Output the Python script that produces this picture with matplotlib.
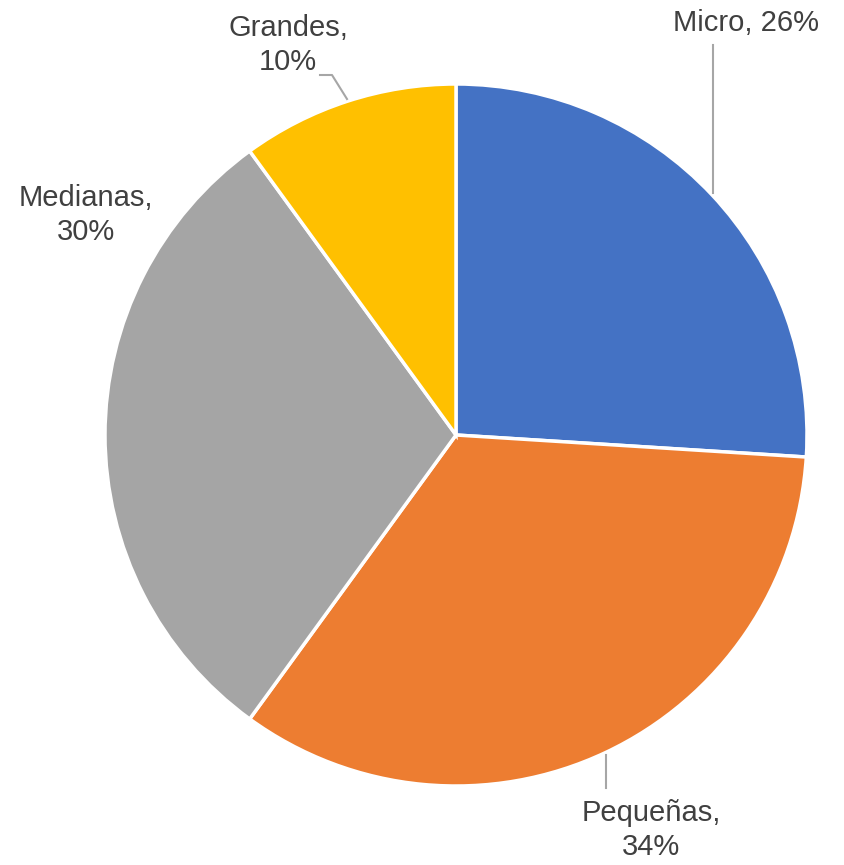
import matplotlib
matplotlib.use("Agg")
import matplotlib.pyplot as plt
from matplotlib import font_manager

names = {f.name for f in font_manager.fontManager.ttflist}
fam = "Liberation Sans Narrow" if "Liberation Sans Narrow" in names else "Liberation Sans"

categories = ["Micro", "Pequeñas", "Medianas", "Grandes"]
values = [26, 34, 30, 10]
colors = ["#4472C4", "#ED7D31", "#A5A5A5", "#FFC000"]
labels = ["Micro, 26%", "Pequeñas,\n34%", "Medianas,\n30%", "Grandes,\n10%"]

W, H = 844, 865
fig = plt.figure(figsize=(W / 100, H / 100), dpi=100)
ax = fig.add_axes([0, 0, 1, 1])

cx, cy, r = 456, H - 435, 351
ax.pie(values, colors=colors, startangle=90, counterclock=False,
       center=(cx, cy), radius=r, frame=True,
       wedgeprops=dict(edgecolor="white", linewidth=2.5))
ax.set_xlim(0, W)
ax.set_ylim(0, H)
ax.set_aspect("equal")
ax.axis("off")

tc = "#404040"
fs = 21
ls = 1.3
ax.text(746, H - 23, labels[0], ha="center", va="center", fontsize=fs, color=tc, family=fam)
ax.text(651, H - 830, labels[1], ha="center", va="center", fontsize=fs, color=tc, family=fam, linespacing=ls)
ax.text(86, H - 215, labels[2], ha="center", va="center", fontsize=fs, color=tc, family=fam, linespacing=ls)
ax.text(288, H - 45, labels[3], ha="center", va="center", fontsize=fs, color=tc, family=fam, linespacing=ls)

lc = "#A6A6A6"
ax.plot([713, 713], [H - 45, H - 193], color=lc, lw=1.5)
ax.plot([606, 606], [H - 755, H - 788], color=lc, lw=1.5)
ax.plot([320, 332, 347], [H - 75, H - 75, H - 99], color=lc, lw=1.5)

fig.savefig("out.png", dpi=100)
